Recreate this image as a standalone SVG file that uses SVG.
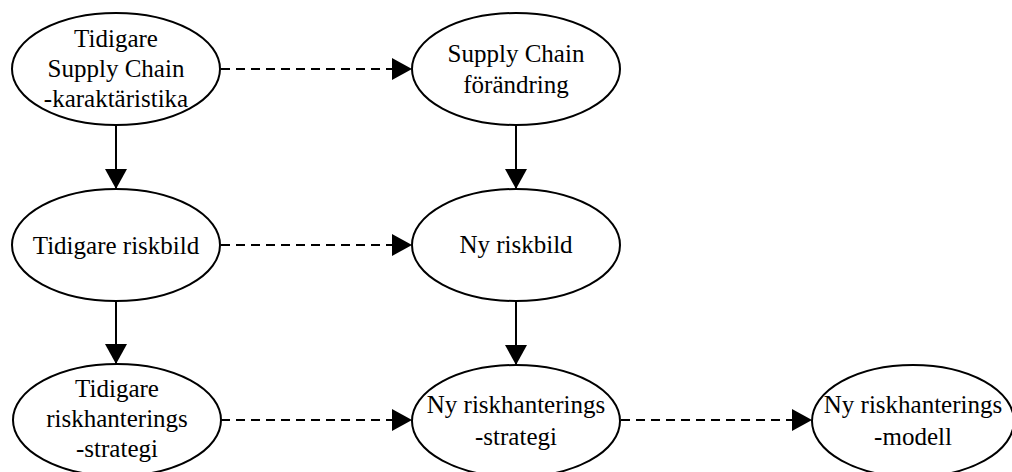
<svg xmlns="http://www.w3.org/2000/svg" width="1012" height="472" viewBox="0 0 1012 472">
<style>
.n ellipse{fill:#fff;stroke:#000;stroke-width:2}
.n text{font-family:"Liberation Serif","Times New Roman",serif;font-size:25px;fill:#000;text-anchor:middle}
.c line{stroke:#000;stroke-width:2}
.c .d{stroke-dasharray:9 6}
</style>
<defs>
<marker id="ah" markerUnits="userSpaceOnUse" markerWidth="20" markerHeight="22" refX="20" refY="11" orient="auto" viewBox="0 0 20 22">
<path d="M0,0 L20,11 L0,22 z" fill="#000"/>
</marker>
</defs>
<rect width="1012" height="472" fill="#fff"/>
<g class="c" id="connectors">
<line class="d" x1="221" y1="69" x2="412" y2="69" marker-end="url(#ah)"/>
<line class="d" x1="221" y1="245" x2="412" y2="245" marker-end="url(#ah)"/>
<line class="d" x1="221" y1="420" x2="412" y2="420" marker-end="url(#ah)"/>
<line class="d" x1="621" y1="420" x2="812" y2="420" marker-end="url(#ah)"/>
<line x1="116" y1="125" x2="116" y2="189" marker-end="url(#ah)"/>
<line x1="516" y1="125" x2="516" y2="189" marker-end="url(#ah)"/>
<line x1="116" y1="301" x2="116" y2="364" marker-end="url(#ah)"/>
<line x1="516" y1="301" x2="516" y2="365" marker-end="url(#ah)"/>
</g>
<g class="n" id="n1">
<ellipse cx="116" cy="69" rx="104" ry="56"/>
<text x="116" y="47">Tidigare</text>
<text x="116" y="77">Supply Chain</text>
<text x="116" y="107">-karaktäristika</text>
</g>
<g class="n" id="n2">
<ellipse cx="516" cy="69" rx="104" ry="56"/>
<text x="516" y="62">Supply Chain</text>
<text x="516" y="93">förändring</text>
</g>
<g class="n" id="n3">
<ellipse cx="116" cy="245" rx="104" ry="56"/>
<text x="116" y="254">Tidigare riskbild</text>
</g>
<g class="n" id="n4">
<ellipse cx="516" cy="245" rx="104" ry="56"/>
<text x="516" y="253">Ny riskbild</text>
</g>
<g class="n" id="n5">
<ellipse cx="117" cy="420" rx="104" ry="56"/>
<text x="117" y="397">Tidigare</text>
<text x="117" y="427">riskhanterings</text>
<text x="117" y="457">-strategi</text>
</g>
<g class="n" id="n6">
<ellipse cx="516" cy="421" rx="104" ry="56"/>
<text x="516" y="413">Ny riskhanterings</text>
<text x="516" y="445">-strategi</text>
</g>
<g class="n" id="n7">
<ellipse cx="913" cy="421" rx="101" ry="56"/>
<text x="913" y="413">Ny riskhanterings</text>
<text x="913" y="445">-modell</text>
</g>
</svg>
